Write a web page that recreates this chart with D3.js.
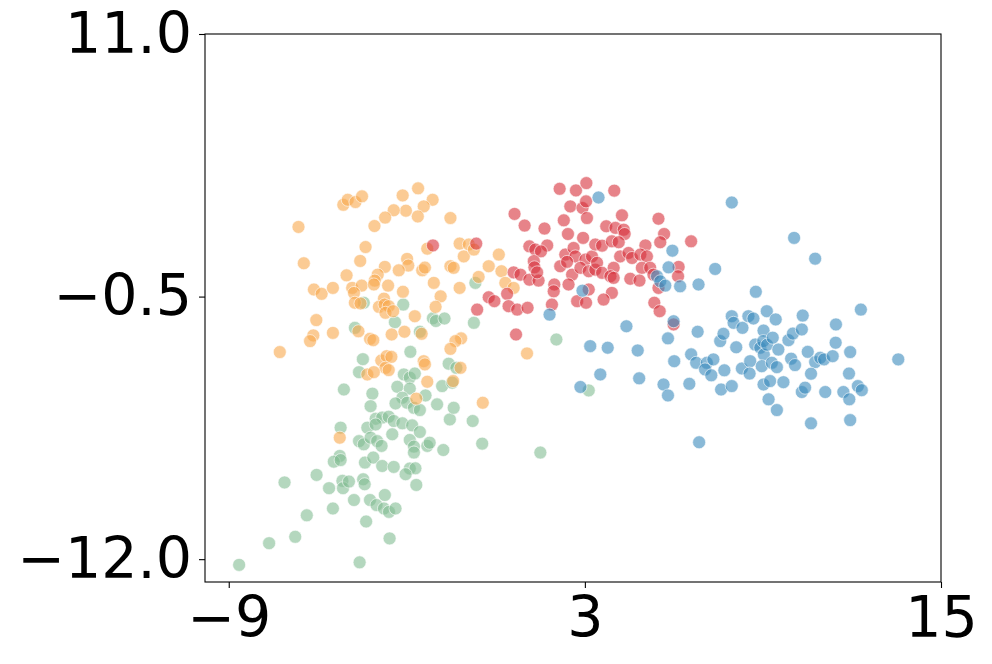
<!DOCTYPE html>
<html><head><meta charset="utf-8">
<script src="https://cdn.jsdelivr.net/npm/d3@7"></script>
<style>body{margin:0;background:#fff}svg{display:block}</style>
</head><body>
<svg id="chart" width="992" height="664"></svg>
<script>
const seriesNames = ["green", "orange", "red", "blue"];
const seriesColors = ["#82bc93", "#f9a94d", "#d7303a", "#3a8bbd"];
const xTicks = [-9, 3, 15];
const yTicks = [-12.0, -0.5, 11.0];

const green = [[-4.45,-0.77],[-3.12,-0.85],[-3.40,-1.62],[-2.12,-1.45],[-2.02,-1.57],[-1.73,-1.46],[-2.56,-2.04],[-4.75,-1.87],[-2.88,-2.92],[-4.48,-3.24],[-4.61,-3.81],[-3.10,-3.91],[-2.90,-4.05],[-2.73,-3.87],[-3.32,-4.45],[-2.90,-4.53],[-5.12,-4.57],[-4.16,-4.75],[-2.37,-4.83],[-3.15,-4.93],[-3.38,-5.18],[-2.99,-5.15],[-4.22,-5.30],[-2.76,-5.37],[-2.56,-5.47],[-1.98,-5.22],[-4.05,-5.85],[-3.83,-5.80],[-3.61,-5.76],[-3.44,-5.95],[-3.15,-6.05],[-2.82,-6.14],[-5.23,-6.24],[-4.33,-6.24],
[-4.61,-6.83],[-4.45,-6.97],[-4.22,-6.68],[-4.05,-6.10],[-3.49,-6.53],[-4.00,-6.83],[-3.85,-7.04],[-5.26,-7.48],[-5.46,-7.73],[-5.23,-7.66],[-4.41,-7.77],[-4.13,-7.55],[-3.83,-7.92],[-3.44,-7.96],[-6.04,-8.31],[-7.12,-8.64],[-5.62,-8.89],[-5.17,-8.57],[-5.15,-8.89],[-4.95,-8.60],[-4.47,-8.50],[-4.42,-8.72],[-4.78,-9.41],[-4.24,-9.41],[-4.02,-9.63],[-3.74,-9.19],[-3.77,-9.78],[-3.60,-9.93],[-3.38,-9.78],[-5.49,-9.78],[-6.37,-10.08],[-4.37,-10.35],[-6.76,-11.02],[-7.64,-11.30],[-3.58,-11.09],[-8.65,-12.25],[-4.59,-12.14],
[-1.55,-5.88],[-0.78,-5.95],[-2.56,-6.43],[-2.90,-6.78],[-2.76,-7.07],[-2.76,-7.33],[-2.31,-7.04],[-2.23,-6.90],[-1.77,-7.22],[-0.46,-6.94],[1.50,-7.33],[-2.90,-8.03],[-2.71,-8.02],[-3.04,-8.28],[-2.68,-8.75],
[-0.74,-1.65],[2.04,-2.38],[-1.59,-3.44],[-1.33,-3.62],[-1.81,-4.42],[-1.47,-4.27],[3.13,-4.61],[-1.42,-5.37],[-0.69,0.10]];

const orange = [[-6.65,2.55],[-5.14,3.52],[-4.99,3.74],[-4.73,3.64],[-4.51,3.89],[-3.14,3.93],[-2.62,4.24],[-2.13,3.74],[-2.43,3.45],[-2.63,3.01],[-3.03,3.26],[-3.44,3.28],[-3.73,2.96],[-4.09,2.59],[-4.39,1.67],[-2.31,1.60],[-6.47,0.96],[-4.57,1.06],[-2.99,1.15],[-2.95,0.86],[-3.27,0.65],[-3.74,0.80],[-2.48,0.65],[-2.39,0.77],[-5.03,0.43],[-3.98,0.46],[-4.08,0.20],[-2.09,0.10],[-3.63,-0.02],[-6.13,-0.19],[-5.87,-0.38],[-5.49,-0.12],[-4.84,-0.12],[-4.52,-0.02],[-4.78,-0.34],[-3.13,-0.29],[-4.11,0.03],[-3.77,-0.59],[-1.86,-0.49],[-4.75,-0.77],[-4.56,-0.80],[-3.94,-0.95],[-3.75,-0.85],[-3.61,-0.92],[-3.72,-1.21],[-3.46,-1.14],[-2.03,-0.95],
[-2.73,-1.36],[-6.05,-1.53],[-6.15,-2.20],[-6.26,-2.45],[-5.49,-2.09],[-4.63,-2.02],[-4.24,-2.35],[-4.13,-2.41],[-3.51,-2.16],[-3.08,-2.04],[-2.50,-2.13],[-7.28,-2.93],[-3.86,-3.30],[-3.68,-3.11],[-3.52,-3.14],[-3.72,-3.62],[-3.61,-3.72],[-2.43,-3.33],[-2.39,-3.47],[-4.33,-3.91],[-4.11,-3.81],[-2.31,-4.23],[-2.68,-4.97],[-5.26,-6.68],
[-1.53,2.94],[-1.22,1.82],[-0.91,1.78],[-1.08,1.26],[-0.74,1.56],[0.10,1.34],
[-1.53,0.83],[-1.42,0.76],[-0.24,0.83],[0.19,0.61],
[-1.22,-0.12],[-0.58,0.36],[0.32,0.10],[0.60,-0.12],
[-1.17,-2.33],[-1.36,-2.45],[-1.53,-2.79],[1.05,-2.99],[-1.19,-3.62],
[-1.44,-4.20],[-0.44,-5.15]];

const red = [[-2.12,1.74],[-0.66,1.82],[0.63,3.12],[0.97,2.61],[1.64,2.48],[2.15,4.22],[2.70,4.15],[3.05,4.47],[2.51,3.45],[2.92,3.38],[3.04,3.67],[3.07,2.94],[2.29,2.84],[2.43,2.24],[2.94,2.07],[1.13,1.70],[1.33,1.56],[1.73,1.74],[1.52,1.48],[1.28,1.05],[1.30,0.78],[2.34,1.34],[2.62,1.63],[2.68,1.26],[3.02,1.12],[3.24,1.26],[3.35,1.78],[2.17,0.83],[2.40,1.02],[2.57,0.46],[2.85,0.76],[3.13,0.61],[3.35,0.68],[0.60,0.56],[0.83,0.46],[1.13,0.24],[1.44,0.20],[1.39,0.56],[-0.24,-0.53],[0.38,-0.38],[1.97,0.03],[1.95,-0.27],[3.13,-0.19],[2.45,0.03],[2.74,-0.70],
[3.99,4.14],[4.25,3.06],[5.48,2.91],[3.72,2.58],[4.03,2.51],[4.31,2.43],[4.34,2.24],[3.58,1.73],[3.91,1.92],[4.14,1.88],[5.67,2.24],[5.54,1.88],[6.58,1.92],[5.04,1.74],[4.19,1.26],[4.47,1.41],[4.59,1.19],[4.87,1.34],[5.09,1.26],[3.41,0.98],[3.58,0.54],[3.97,0.76],[3.86,0.39],[3.97,0.32],[4.92,0.76],[5.20,0.76],[6.16,0.80],[4.53,0.28],[4.84,0.20],[5.31,0.46],[6.14,0.39],[5.48,-0.12],[3.91,-0.34],[3.63,-0.63],[5.34,-0.77],[5.52,-1.14],[5.99,-1.72],
[-0.63,-1.07],[-0.05,-0.70],[0.43,-0.92],[0.72,-1.07],[1.07,-0.99],[1.89,-0.85],[3.04,-0.77],[0.68,-2.16]];

const blue = [[3.46,3.84],[7.95,3.62],[5.95,1.51],[5.82,0.78],[7.39,0.71],[5.43,0.39],[5.54,0.17],[5.71,-0.02],[6.21,-0.05],[6.83,0.03],[8.76,-0.29],[10.05,2.07],[10.76,1.16],[1.81,-1.29],[3.18,-2.67],[2.85,-4.46],[3.52,-3.91],[2.92,-0.24],[5.99,-1.58],[4.40,-1.80],[5.80,-2.33],[6.80,-2.04],[3.77,-2.74],[4.78,-2.86],[6.01,-3.33],[6.58,-3.03],[6.75,-3.40],[7.11,-3.40],[7.33,-3.25],[7.05,-3.69],[7.26,-3.95],[7.70,-3.73],[4.83,-4.08],[5.65,-4.35],[5.80,-4.83],[6.52,-4.32],[7.59,-4.57],[7.95,-4.42],[7.56,-2.45],[7.67,-2.13],[7.95,-1.36],[8.01,-1.65],[8.31,-1.87],[8.51,-1.36],[8.68,-1.46],[9.13,-1.14],[8.10,-2.72],[9.02,-1.99],[8.74,-2.60],[8.91,-2.74],[9.03,-3.04],[9.01,-2.45],[9.14,-2.61],[8.29,-3.65],[8.57,-3.33],[8.55,-3.87],[8.96,-3.55],[9.02,-4.35],[9.24,-4.20],[9.19,-5.00],
[9.43,-1.50],[10.34,-1.33],[12.30,-1.07],[11.46,-1.72],[9.33,-2.30],[9.52,-2.82],[9.86,-2.41],[10.01,-2.12],[10.31,-1.94],[11.45,-2.52],[10.51,-2.92],[11.94,-2.93],[9.95,-3.22],[10.08,-3.50],[10.76,-3.37],[10.93,-3.18],[11.06,-3.25],[11.35,-3.11],[9.30,-3.40],[9.47,-3.59],[13.56,-3.25],[10.62,-3.88],[11.90,-3.87],[9.69,-4.25],[10.31,-4.68],[10.42,-4.49],[11.10,-4.68],[11.71,-4.68],[11.91,-5.00],[12.20,-4.42],[12.33,-4.60],[9.47,-5.47],[10.62,-6.05],[11.94,-5.91],[6.85,-6.88]];

const seriesData = [green, orange, red, blue];

const margin = {left: 205, right: 51, top: 34, bottom: 82};
const W = 992, H = 664;
const x = d3.scaleLinear().domain([-9.8, 15]).range([margin.left, W - margin.right]);
const y = d3.scaleLinear().domain([-13, 11]).range([H - margin.bottom, margin.top]);

const svg = d3.select("#chart");
const fmtY = d => d3.format(".1f")(d).replace("-", "\u2212");
const fmtX = d => d3.format("d")(d).replace("-", "\u2212");

// points
seriesData.forEach((pts, i) => {
  svg.append("g").selectAll("circle").data(pts).join("circle")
    .attr("cx", d => x(d[0])).attr("cy", d => y(d[1]))
    .attr("r", 6.5)
    .attr("fill", seriesColors[i]).attr("fill-opacity", 0.6)
    .attr("stroke", "#fff").attr("stroke-opacity", 0.6).attr("stroke-width", 1);
});

// frame
svg.append("rect")
  .attr("x", margin.left).attr("y", margin.top)
  .attr("width", W - margin.left - margin.right)
  .attr("height", H - margin.top - margin.bottom)
  .attr("fill", "none").attr("stroke", "#000").attr("stroke-width", 1.1);

const xAxis = d3.axisBottom(x).tickValues(xTicks).tickSize(6).tickPadding(9).tickFormat(fmtX);
const yAxis = d3.axisLeft(y).tickValues(yTicks).tickSize(6).tickPadding(7).tickFormat(fmtY);

const gx = svg.append("g").attr("transform", `translate(0,${H - margin.bottom})`).call(xAxis);
const gy = svg.append("g").attr("transform", `translate(${margin.left},0)`).call(yAxis);
[gx, gy].forEach(g => {
  g.select(".domain").remove();
  g.selectAll(".tick line").attr("stroke", "#000").attr("stroke-width", 1.1);
  g.selectAll(".tick text").attr("fill", "#000")
    .style("font-family", "'DejaVu Sans', sans-serif").style("font-size", "57px");
});
</script>
</body></html>
